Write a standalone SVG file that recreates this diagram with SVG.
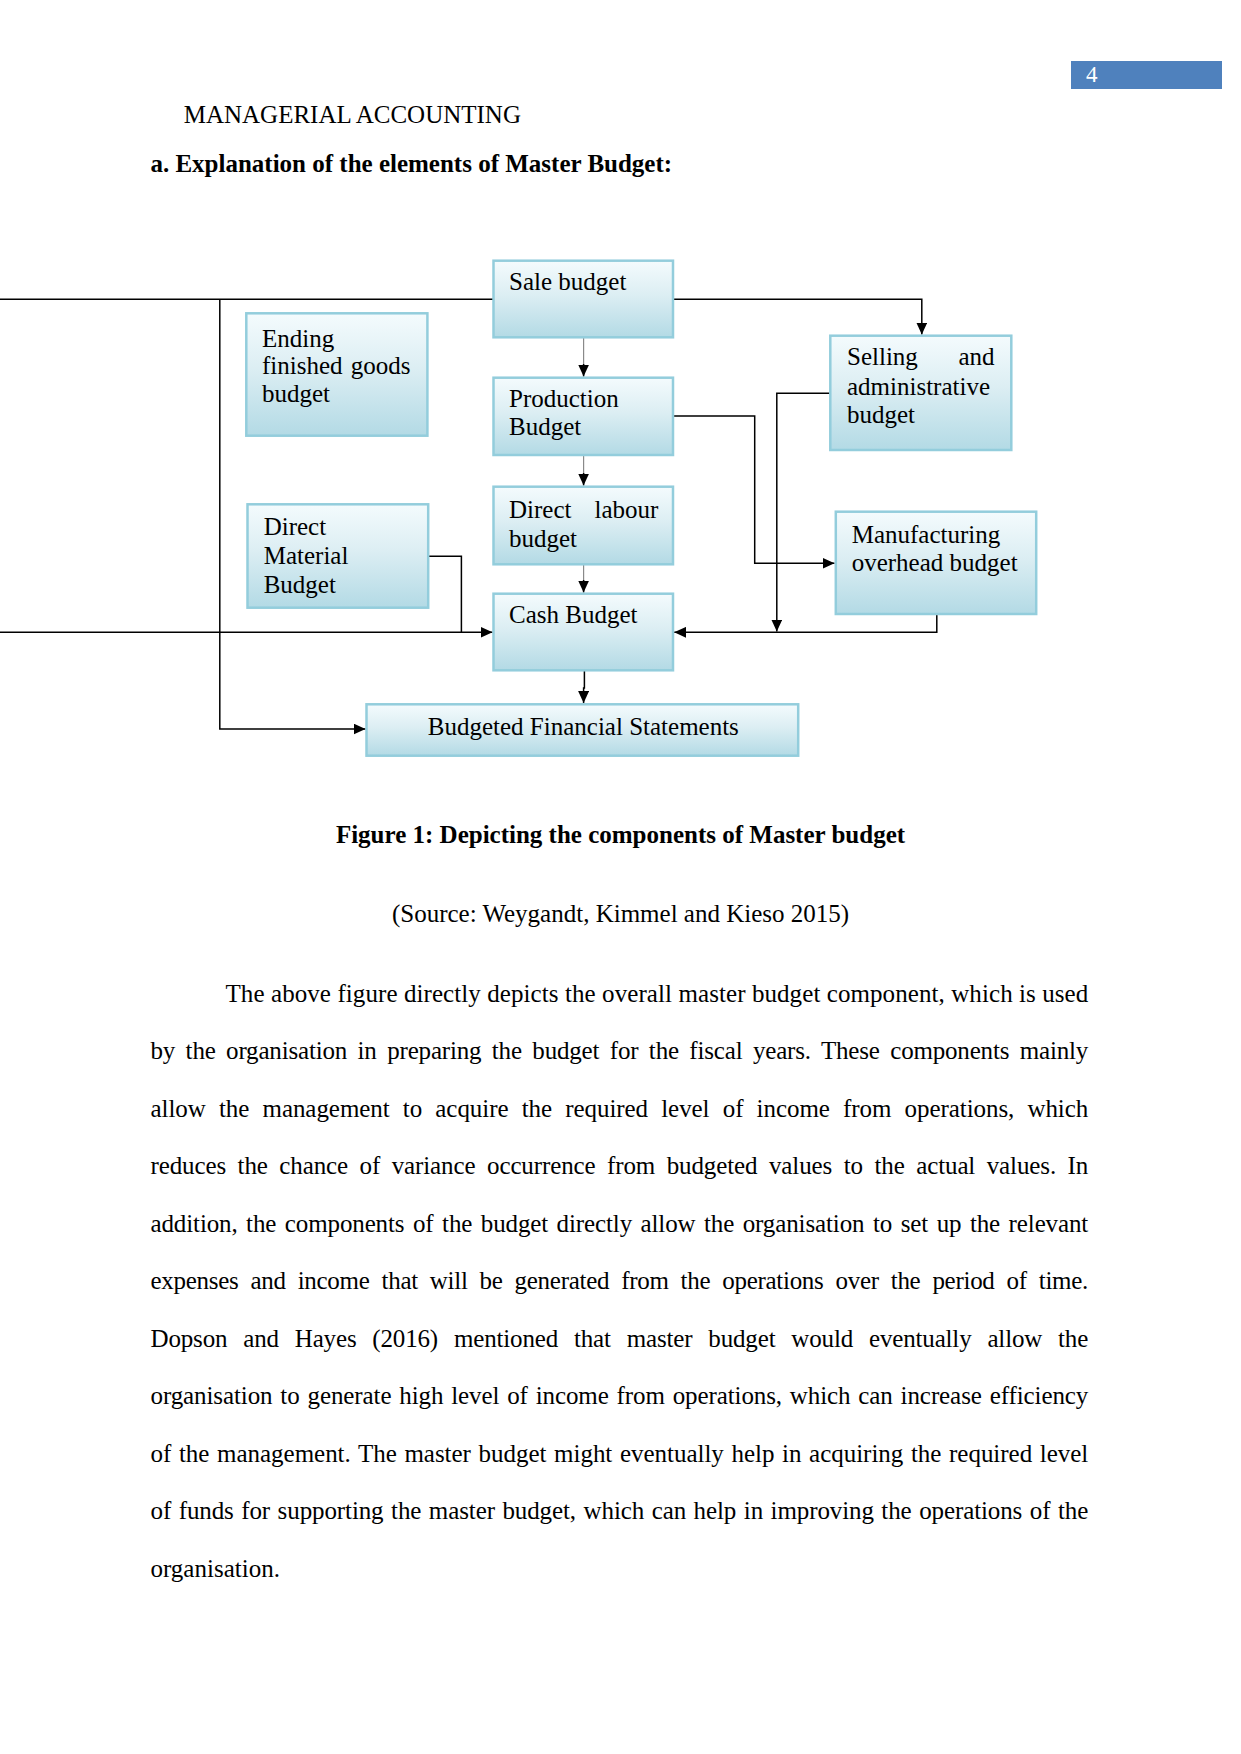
<svg xmlns="http://www.w3.org/2000/svg" width="1241" height="1754" viewBox="0 0 1241 1754">
<defs>
<linearGradient id="boxfill" x1="0" y1="0" x2="0" y2="1">
<stop offset="0" stop-color="#f4fbfd"/>
<stop offset="0.45" stop-color="#dceef3"/>
<stop offset="1" stop-color="#b3dae5"/>
</linearGradient>
<marker id="arr" markerUnits="userSpaceOnUse" markerWidth="13" markerHeight="11" refX="12" refY="5.5" orient="auto">
<path d="M0,0 L12,5.5 L0,11 Z" fill="#000"/>
</marker>
</defs>
<style>
text{font-family:"Liberation Serif","Times New Roman",serif;font-size:25px;fill:#000}
.b{font-weight:bold}
.box{fill:url(#boxfill);stroke:#93cddc;stroke-width:2.5}
.c{fill:none;stroke:#000;stroke-width:1.5}
.g{fill:none;stroke:#8a8a8a;stroke-width:1.2}
</style>
<rect width="1241" height="1754" fill="#fff"/>

<g id="header">
<rect x="1071" y="61" width="151" height="28" fill="#4f81bd"/>
<text x="1086" y="82" style="fill:#fff;font-size:23px">4</text>
<text x="183.7" y="122.7">MANAGERIAL ACCOUNTING</text>
<text x="150.4" y="171.7" class="b">a. Explanation of the elements of Master Budget:</text>
</g>

<g id="connectors">
<path class="c" d="M673,299.3 H921.8 V334.5" marker-end="url(#arr)"/>
<path class="c" d="M0,299.3 H493.5"/>
<path class="c" d="M219.8,299.3 V729 H365.5" marker-end="url(#arr)"/>
<path class="c" d="M0,632.3 H492.5" marker-end="url(#arr)"/>
<path class="c" d="M428.2,556.3 H461.4 V632.3"/>
<path class="g" d="M583.6,337.3 V366"/>
<path class="c" d="M583.6,364 V376.5" marker-end="url(#arr)"/>
<path class="g" d="M583.6,455 V475"/>
<path class="c" d="M583.6,473 V485.5" marker-end="url(#arr)"/>
<path class="g" d="M583.6,564.3 V582"/>
<path class="c" d="M583.6,580 V592.5" marker-end="url(#arr)"/>
<path class="c" d="M584.4,670.3 V688 H583.6 V703" marker-end="url(#arr)"/>
<path class="c" d="M673,416 H754.7 V563.3 H834.5" marker-end="url(#arr)"/>
<path class="c" d="M830.3,393.3 H776.8 V631.5" marker-end="url(#arr)"/>
<path class="c" d="M936.8,614 V632.3 H674.2" marker-end="url(#arr)"/>
</g>

<g id="sale-budget">
<rect class="box" x="493.5" y="260.7" width="179.5" height="76.6"/>
<text x="509" y="290">Sale budget</text>
</g>
<g id="ending-finished-goods-budget">
<rect class="box" x="246.3" y="313.3" width="181.1" height="122.4"/>
<text x="262" y="347">Ending</text>
<text x="262" y="374">finished</text>
<text x="410.4" y="374" text-anchor="end">goods</text>
<text x="262" y="402">budget</text>
</g>
<g id="production-budget">
<rect class="box" x="493.5" y="377.7" width="179.5" height="77.3"/>
<text x="509" y="406.7">Production</text>
<text x="509" y="435">Budget</text>
</g>
<g id="selling-admin-budget">
<rect class="box" x="830.3" y="335.7" width="181" height="114.3"/>
<text x="847" y="365">Selling</text>
<text x="994.6" y="365" text-anchor="end">and</text>
<text x="847" y="394.5">administrative</text>
<text x="847" y="423.3">budget</text>
</g>
<g id="direct-material-budget">
<rect class="box" x="247.5" y="504.3" width="180.7" height="103.4"/>
<text x="263.7" y="535">Direct</text>
<text x="263.7" y="564.3">Material</text>
<text x="263.7" y="593.3">Budget</text>
</g>
<g id="direct-labour-budget">
<rect class="box" x="493.5" y="486.7" width="179.5" height="77.6"/>
<text x="509" y="518.3">Direct</text>
<text x="658.4" y="518.3" text-anchor="end">labour</text>
<text x="509" y="546.7">budget</text>
</g>
<g id="manufacturing-overhead-budget">
<rect class="box" x="835.8" y="511.7" width="200.4" height="102.3"/>
<text x="851.7" y="543.3">Manufacturing</text>
<text x="851.7" y="570.7">overhead budget</text>
</g>
<g id="cash-budget">
<rect class="box" x="493.5" y="593.7" width="179.5" height="76.6"/>
<text x="509" y="623.3">Cash Budget</text>
</g>
<g id="budgeted-financial-statements">
<rect class="box" x="366.5" y="704.3" width="431.7" height="51.4"/>
<text x="427.8" y="735">Budgeted Financial Statements</text>
</g>

<g id="caption">
<text x="620.5" y="843.3" class="b" text-anchor="middle">Figure 1: Depicting the components of Master budget</text>
<text x="620.5" y="921.7" text-anchor="middle">(Source: Weygandt, Kimmel and Kieso 2015)</text>
</g>

<g id="body">
<text x="225.5" y="1001.5" textLength="862.8" lengthAdjust="spacing">The above figure directly depicts the overall master budget component, which is used</text>
<text x="150.5" y="1059" style="word-spacing:4.4px" textLength="937.8" lengthAdjust="spacing">by the organisation in preparing the budget for the fiscal years. These components mainly</text>
<text x="150.5" y="1116.5" style="word-spacing:7px" textLength="937.8" lengthAdjust="spacing">allow the management to acquire the required level of income from operations, which</text>
<text x="150.5" y="1174" style="word-spacing:5.4px" textLength="937.8" lengthAdjust="spacing">reduces the chance of variance occurrence from budgeted values to the actual values. In</text>
<text x="150.5" y="1231.5" style="word-spacing:2.4px" textLength="937.8" lengthAdjust="spacing">addition, the components of the budget directly allow the organisation to set up the relevant</text>
<text x="150.5" y="1289" style="word-spacing:6px" textLength="937.8" lengthAdjust="spacing">expenses and income that will be generated from the operations over the period of time.</text>
<text x="150.5" y="1346.5" style="word-spacing:9.8px" textLength="937.8" lengthAdjust="spacing">Dopson and Hayes (2016) mentioned that master budget would eventually allow the</text>
<text x="150.5" y="1404" style="word-spacing:1.7px" textLength="937.8" lengthAdjust="spacing">organisation to generate high level of income from operations, which can increase efficiency</text>
<text x="150.5" y="1461.5" style="word-spacing:1.4px" textLength="937.8" lengthAdjust="spacing">of the management. The master budget might eventually help in acquiring the required level</text>
<text x="150.5" y="1519" style="word-spacing:1.4px" textLength="937.8" lengthAdjust="spacing">of funds for supporting the master budget, which can help in improving the operations of the</text>
<text x="150.5" y="1576.5">organisation.</text>
</g>
</svg>
